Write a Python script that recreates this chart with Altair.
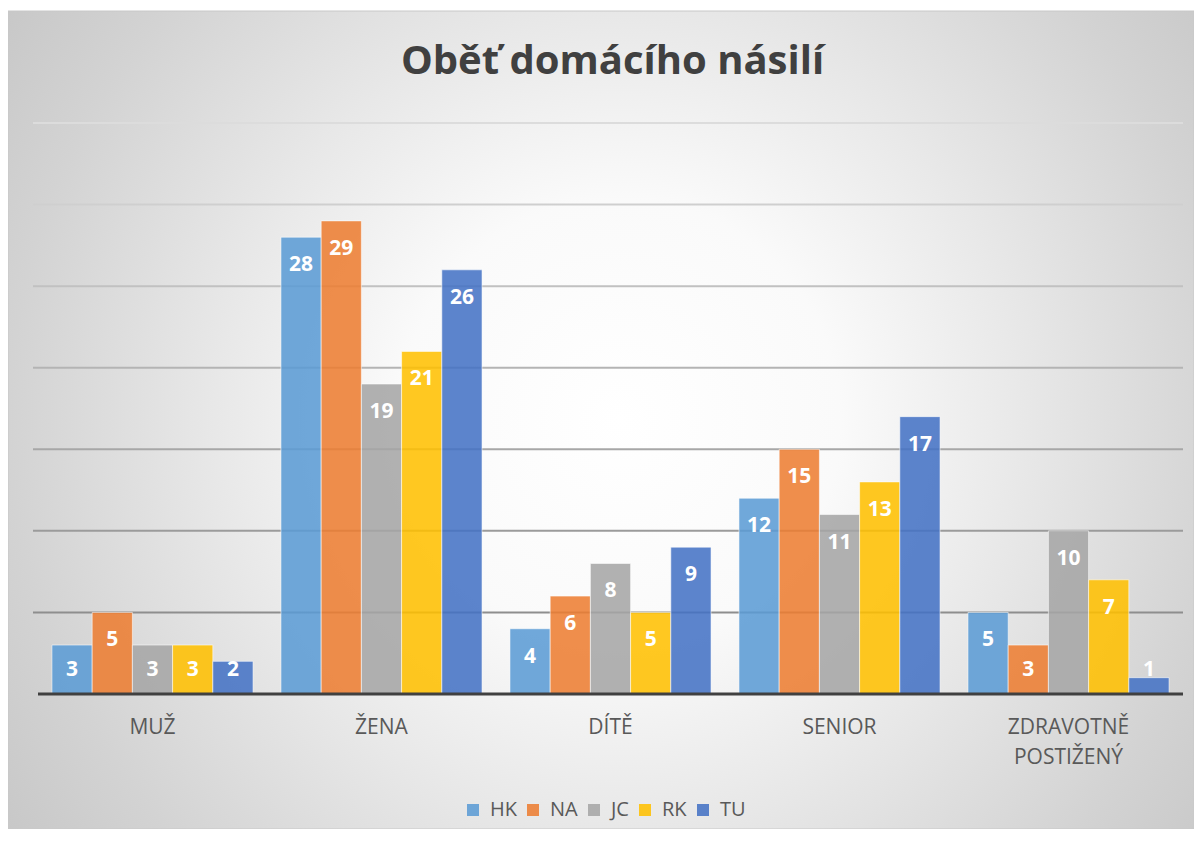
import altair as alt
import pandas as pd

categories = ["MUŽ", "ŽENA", "DÍTĚ", "SENIOR", "ZDRAVOTNĚ POSTIŽENÝ"]
series = ["HK", "NA", "JC", "RK", "TU"]
HK = [3, 28, 4, 12, 5]
NA = [5, 29, 6, 15, 3]
JC = [3, 19, 8, 11, 10]
RK = [3, 21, 5, 13, 7]
TU = [2, 26, 9, 17, 1]
colors = ["#5B9BD5", "#ED7D31", "#A5A5A5", "#FFC000", "#4472C4"]
grid_values = [5, 10, 15, 20, 25, 30, 35]
title_text = "Oběť domácího násilí"

PL = 19            # left padding
W, H = 1167, 818   # plot area
Y_DOMAIN = [-8.275, 41.865]
FONT = "Open Sans"

rows = []
for s, vals in zip(series, [HK, NA, JC, RK, TU]):
    for c, v in zip(categories, vals):
        rows.append({"category": c, "series": s, "value": v})
df = pd.DataFrame(rows)

yscale = alt.Scale(domain=Y_DOMAIN, nice=False, zero=False)
xscale = alt.Scale(domain=categories, paddingInner=0.122, paddingOuter=0.109)
x_axis = alt.Axis(labelExpr="split(datum.label, ' ')", domain=False, ticks=False, grid=False,
                  offset=683 - H, labelPadding=22, labelFont=FONT, labelFontSize=21,
                  labelColor="#595959", labelLineHeight=30, labelAngle=0, labelBaseline="top",
                  zindex=1)
x_enc = alt.X("category:N", sort=categories, scale=xscale, title=None, axis=x_axis)
xoff = alt.XOffset("series:N", sort=series, scale=alt.Scale(paddingInner=0, paddingOuter=0))

gradient = {
    "gradient": "radial",
    "x1": 0.516, "y1": 0.5, "r1": 0,
    "x2": 0.516, "y2": 0.5, "r2": 0.62,
    "stops": [
        {"offset": 0, "color": "#ffffff"},
        {"offset": 0.3, "color": "#fafafa"},
        {"offset": 0.55, "color": "#e8e8e8"},
        {"offset": 0.83, "color": "#d3d3d3"},
        {"offset": 1, "color": "#c8c8c8"},
    ],
}

bg = alt.Chart(pd.DataFrame({"k": [0]})).mark_rect(fill=gradient, stroke="#c8c8c8", strokeWidth=1).encode(
    x=alt.value(-PL), x2=alt.value(W), y=alt.value(0), y2=alt.value(H)
)

grid = alt.Chart(pd.DataFrame({"g": grid_values})).mark_rule(strokeWidth=2).encode(
    y=alt.Y("g:Q", scale=yscale, axis=None),
    x=alt.value(6), x2=alt.value(1156),
    stroke=alt.Stroke("g:Q", scale=alt.Scale(domain=[5, 35], range=["#8e8e8e", "#dcdcdc"]), legend=None),
)

bars = alt.Chart(df).mark_bar(fillOpacity=0.87, stroke="white", strokeOpacity=0.55, strokeWidth=1).encode(
    x=x_enc,
    xOffset=xoff,
    y=alt.Y("value:Q", scale=yscale, axis=None),
    color=alt.Color("series:N", sort=series, scale=alt.Scale(domain=series, range=colors),
                    legend=alt.Legend(orient="none", legendX=436, legendY=789, direction="horizontal",
                                      title=None, symbolType="square", symbolSize=144, symbolStrokeWidth=0,
                                      symbolOpacity=0.87, labelFont=FONT, labelFontSize=20,
                                      labelColor="#595959", labelOffset=7, columnPadding=6,
                                      gridAlign="none")),
)

base_line = alt.Chart(pd.DataFrame({"b": [0]})).mark_rule(color="#404040", strokeWidth=3).encode(
    y=alt.Y("b:Q", scale=yscale, axis=None), x=alt.value(11), x2=alt.value(1156)
)

labels = alt.Chart(df).transform_calculate(
    label_y="max(datum.value - 1.716, 1.47)"
).mark_text(color="white", font=FONT, fontSize=21, fontWeight="bold", baseline="middle").encode(
    x=x_enc,
    xOffset=xoff,
    y=alt.Y("label_y:Q", scale=yscale, axis=None),
    text=alt.Text("value:Q"),
)

chart = alt.layer(bg, grid, bars, base_line, labels).properties(
    width=W, height=H,
    background="white",
    autosize=alt.AutoSizeParams(type="none"),
    padding={"left": PL, "top": 3, "right": 0, "bottom": 0},
    title=alt.TitleParams(title_text, font=FONT, fontSize=40, fontWeight="bold", color="#404040",
                          anchor="middle", offset=-103, baseline="alphabetic", dx=2),
).configure_view(stroke=None)

chart.save("out.html", embed_options={"renderer": "svg", "actions": False})
